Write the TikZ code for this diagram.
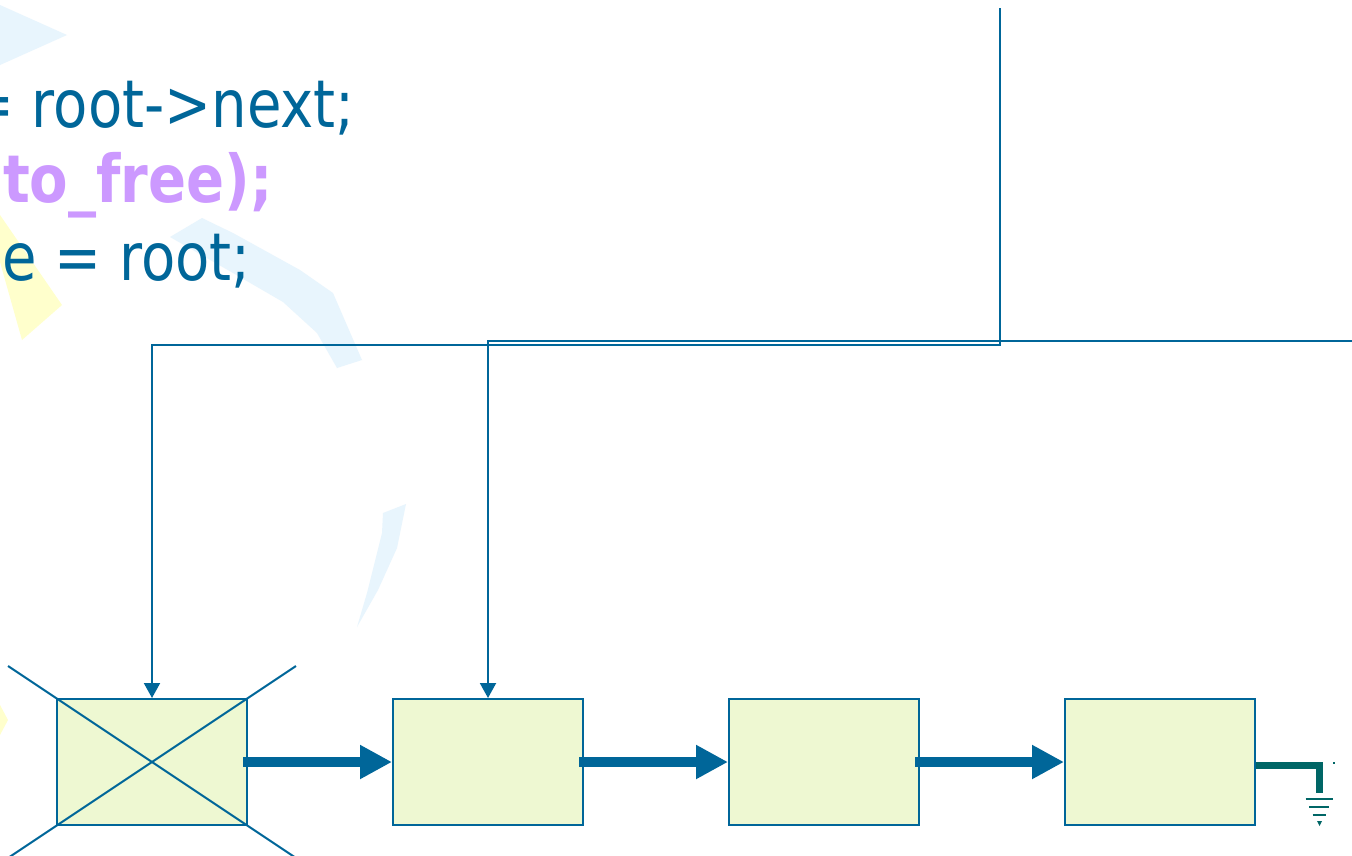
\documentclass[tikz,border=0pt]{standalone}
\usepackage{fontspec}
\setmainfont{DejaVu Sans}[FakeStretch=0.85]
\usetikzlibrary{arrows.meta,calc,positioning}
\definecolor{ptrblue}{RGB}{0,102,153}
\definecolor{boxfill}{RGB}{238,248,210}
\definecolor{codepurple}{RGB}{204,153,255}
\definecolor{groundteal}{RGB}{0,102,102}
\definecolor{swooshblue}{RGB}{232,245,253}
\definecolor{swooshyellow}{RGB}{255,255,204}
\tikzset{
  list node/.style={rectangle,draw=ptrblue,fill=boxfill,line width=2pt,
    minimum width=190pt,minimum height=126pt,inner sep=0pt},
  next edge/.style={-{Triangle[length=32pt,width=32pt]},ptrblue,
    line width=10pt,shorten <=-5pt},
  pointer edge/.style={-{Triangle[length=15pt,width=16pt]},ptrblue,
    line width=2pt},
  cross line/.style={ptrblue,line width=2pt},
  code line/.style={font=\fontsize{66}{80}\selectfont,text=ptrblue,
    inner sep=0pt,anchor=base east},
  code bold/.style={code line,font=\fontsize{66}{80}\selectfont\bfseries,
    text=codepurple},
  ground line/.style={groundteal,line width=7pt},
  ground bar/.style={groundteal,line width=2.5pt},
  backdrop/.style={fill=swooshblue,draw=none}
}

\begin{document}
\begin{tikzpicture}[x=1pt,y=-1pt]
    \useasboundingbox[fill=white] (0,0) rectangle (1352,855);
    \clip (0,0) rectangle (1352,855);
    % backdrop
    \fill[backdrop] (0,5) -- (67,35) -- (0,65) -- cycle;
    \fill[swooshyellow] (0,215) -- (62,305) -- (22,340) -- (0,262) -- cycle;
    \fill[swooshyellow] (0,705) -- (8,720) -- (0,735) -- cycle;
    \fill[backdrop] (170,237) -- (202,218) -- (233,233) -- (300,270)
      -- (333,293) -- (362,360) -- (337,368) -- (317,333) -- (283,302)
      -- (233,273) -- cycle;
    \fill[backdrop] (383,513) -- (406,504) -- (397,548) -- (378,590)
      -- (357,627) -- (367,593) -- (382,533) -- cycle;
    % code
    \node[code line] (codenext) at (355,127) {= root->next;};
    \node[code bold] (codefree) at (273,202) {to\textunderscore free);};
    \node[code line] (coderoot) at (251,280) {e = root;};
    % list
    \node[list node] (listnodeone) at (152,762) {};
    \node[list node,right=144pt of listnodeone] (listnodetwo) {};
    \node[list node,right=144pt of listnodetwo] (listnodethree) {};
    \node[list node,right=144pt of listnodethree] (listnodefour) {};
    \draw[cross line] ($(listnodeone.north west)!-0.25!(listnodeone.south east)$)
      -- ($(listnodeone.north west)!1.25!(listnodeone.south east)$);
    \draw[cross line] ($(listnodeone.south west)!-0.25!(listnodeone.north east)$)
      -- ($(listnodeone.south west)!1.25!(listnodeone.north east)$);
    \draw[next edge] (listnodeone.east) -- (listnodetwo.west);
    \draw[next edge] (listnodetwo.east) -- (listnodethree.west);
    \draw[next edge] (listnodethree.east) -- (listnodefour.west);
    % pointers
    \coordinate (freeptr) at (1000,8);
    \coordinate (freebend) at (1000,345);
    \coordinate (rootptr) at (1352,341);
    \draw[pointer edge] (freeptr) -- (freebend) -| (listnodeone.north);
    \draw[pointer edge] (rootptr) -| (listnodetwo.north);
    % null
    \coordinate (groundstart) at (1256,765);
    \coordinate (groundbend) at (1319,765);
    \coordinate (groundpin) at (1319,793);
    \draw[ground line] (groundstart) -- (groundbend) -- (groundpin);
    \foreach \gy/\gw in {799/13.5,807/10,815/6.5}
      \draw[ground bar] (1319-\gw,\gy) -- (1319+\gw,\gy);
    \fill[groundteal] (1317,821) -- (1322,821) -- (1319.5,826) -- cycle;
    \fill[groundteal] (1333,762) rectangle (1335,764);
  \end{tikzpicture}
\end{document}
